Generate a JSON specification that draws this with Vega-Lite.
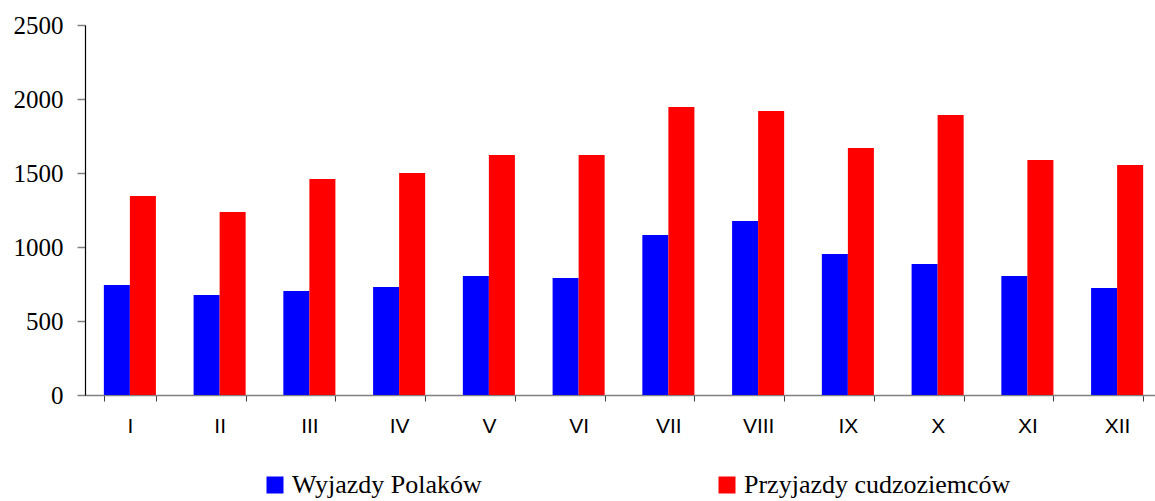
{
  "$schema": "https://vega.github.io/schema/vega-lite/v6.json",
  "width": 1077,
  "height": 370,
  "autosize": {"type": "none"},
  "padding": {"left": 85, "top": 25, "right": 0, "bottom": 106},
  "background": "white",
  "config": {"view": {"stroke": null}},
  "data": {
    "values": [
      {"month": "I", "series": "Wyjazdy Polaków", "value": 743},
      {"month": "I", "series": "Przyjazdy cudzoziemców", "value": 1345},
      {"month": "II", "series": "Wyjazdy Polaków", "value": 676},
      {"month": "II", "series": "Przyjazdy cudzoziemców", "value": 1236},
      {"month": "III", "series": "Wyjazdy Polaków", "value": 703},
      {"month": "III", "series": "Przyjazdy cudzoziemców", "value": 1459},
      {"month": "IV", "series": "Wyjazdy Polaków", "value": 730},
      {"month": "IV", "series": "Przyjazdy cudzoziemców", "value": 1500},
      {"month": "V", "series": "Wyjazdy Polaków", "value": 804},
      {"month": "V", "series": "Przyjazdy cudzoziemców", "value": 1622},
      {"month": "VI", "series": "Wyjazdy Polaków", "value": 791},
      {"month": "VI", "series": "Przyjazdy cudzoziemców", "value": 1622},
      {"month": "VII", "series": "Wyjazdy Polaków", "value": 1081},
      {"month": "VII", "series": "Przyjazdy cudzoziemców", "value": 1946},
      {"month": "VIII", "series": "Wyjazdy Polaków", "value": 1176},
      {"month": "VIII", "series": "Przyjazdy cudzoziemców", "value": 1919},
      {"month": "IX", "series": "Wyjazdy Polaków", "value": 953},
      {"month": "IX", "series": "Przyjazdy cudzoziemców", "value": 1669},
      {"month": "X", "series": "Wyjazdy Polaków", "value": 885},
      {"month": "X", "series": "Przyjazdy cudzoziemców", "value": 1892},
      {"month": "XI", "series": "Wyjazdy Polaków", "value": 804},
      {"month": "XI", "series": "Przyjazdy cudzoziemców", "value": 1588},
      {"month": "XII", "series": "Wyjazdy Polaków", "value": 723},
      {"month": "XII", "series": "Przyjazdy cudzoziemców", "value": 1554}
    ]
  },
  "mark": {"type": "bar"},
  "encoding": {
    "x": {
      "field": "month",
      "type": "nominal",
      "sort": ["I", "II", "III", "IV", "V", "VI", "VII", "VIII", "IX", "X", "XI", "XII"],
      "scale": {"paddingInner": 0.42, "paddingOuter": 0.21},
      "axis": {
        "title": null,
        "labelAngle": 0,
        "labelFont": "Liberation Sans",
        "labelFontSize": 21,
        "labelColor": "black",
        "tickBand": "extent",
        "domainColor": "#808080",
        "domainWidth": 1.5,
        "tickColor": "#404040",
        "tickSize": 6,
        "labelPadding": 14
      }
    },
    "xOffset": {
      "field": "series",
      "sort": ["Wyjazdy Polaków", "Przyjazdy cudzoziemców"]
    },
    "y": {
      "field": "value",
      "type": "quantitative",
      "scale": {"domain": [0, 2500]},
      "axis": {
        "values": [0, 500, 1000, 1500, 2000, 2500],
        "format": "d",
        "grid": false,
        "title": null,
        "labelFont": "Liberation Serif",
        "labelFontSize": 25,
        "labelColor": "black",
        "domainColor": "black",
        "domainWidth": 1.2,
        "tickColor": "#808080",
        "tickWidth": 1.5,
        "tickSize": 8,
        "labelPadding": 14
      }
    },
    "color": {
      "field": "series",
      "type": "nominal",
      "scale": {
        "domain": ["Wyjazdy Polaków", "Przyjazdy cudzoziemców"],
        "range": ["#0000ff", "#ff0000"]
      },
      "legend": {
        "title": null,
        "orient": "none",
        "legendX": 177,
        "legendY": 447,
        "direction": "horizontal",
        "columns": 2,
        "columnPadding": 232,
        "symbolType": "square",
        "symbolSize": 289,
        "symbolStrokeWidth": 0,
        "labelFont": "Liberation Serif",
        "labelFontSize": 26,
        "labelColor": "black",
        "labelOffset": 4,
        "labelLimit": 0
      }
    }
  }
}
